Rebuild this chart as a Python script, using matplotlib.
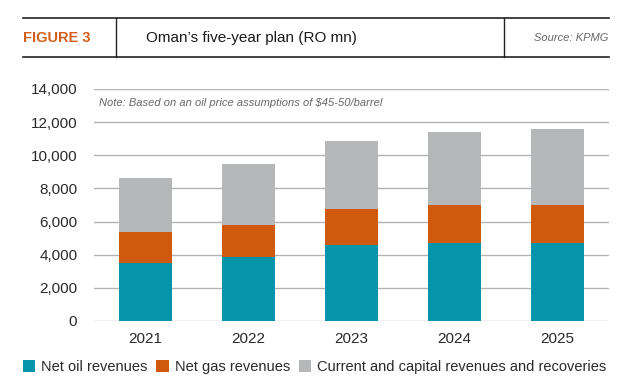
import matplotlib.pyplot as plt
from matplotlib.lines import Line2D
from matplotlib.patches import Patch
from matplotlib.ticker import FuncFormatter
import numpy as np

years = ['2021', '2022', '2023', '2024', '2025']
oil = [3500, 3880, 4600, 4720, 4720]
gas = [1900, 1920, 2180, 2310, 2310]
other = [3250, 3700, 4070, 4370, 4530]

labels = ['Net oil revenues', 'Net gas revenues',
          'Current and capital revenues and recoveries']
colors = ['#0694aa', '#cf5a0e', '#b6b7b9']

W, H = 626, 392
fig = plt.figure(figsize=(W / 100, H / 100), dpi=100)

def fx(x):
    return x / W

def fy(y):
    return 1 - y / H

plain = ['Liberation Sans', 'DejaVu Sans']

# header box
for y in (18, 57):
    fig.add_artist(Line2D([fx(23), fx(609)], [fy(y), fy(y)], color='#222222', lw=1.2))
for x in (116, 504):
    fig.add_artist(Line2D([fx(x), fx(x)], [fy(18), fy(57)], color='#222222', lw=1.0))
fig.text(fx(23), fy(38), 'FIGURE 3', family=plain, weight='bold', fontsize=10.5,
         color='#d2601a', va='center', ha='left')
fig.text(fx(146), fy(38), 'Oman’s five-year plan (RO mn)', family=plain, fontsize=11,
         color='#1a1a1a', va='center', ha='left')
fig.text(fx(608), fy(38), 'Source: KPMG', family=plain, style='italic', fontsize=8,
         color='#666666', va='center', ha='right')

ax = fig.add_axes([fx(94), fy(321), fx(609) - fx(94), (321 - 89) / H])
x = np.arange(len(years))
bottom = np.zeros(len(years))
for vals, c in zip([oil, gas, other], colors):
    ax.bar(x, vals, width=0.51, bottom=bottom, color=c, zorder=3)
    bottom += np.array(vals)

ax.set_xlim(-0.5, len(years) - 0.5)
ax.set_ylim(0, 14000)
ax.set_yticks(np.arange(0, 14001, 2000))
ax.yaxis.set_major_formatter(FuncFormatter(lambda v, p: f'{int(v):,}'))
ax.set_xticks(x)
ax.set_xticklabels(years)
ax.grid(axis='y', color='#b3b3b3', lw=1.0, zorder=0)
for s in ax.spines.values():
    s.set_visible(False)
ax.tick_params(length=0, labelsize=11, labelcolor='#2a2a2a')
ax.tick_params(axis='y', pad=12)
ax.tick_params(axis='x', pad=8)
for t in ax.get_xticklabels() + ax.get_yticklabels():
    t.set_family(plain)

ax.text((99 - 94) / 515, (321 - 103) / 232,
        'Note: Based on an oil price assumptions of $45-50/barrel',
        transform=ax.transAxes, family=plain,
        style='italic', fontsize=8, color='#666666', va='center', ha='left')

handles = [Patch(facecolor=c, edgecolor='none') for c in colors]
fig.legend(handles, labels, loc='center left', bbox_to_anchor=(fx(23), fy(367)),
           ncol=3, frameon=False, prop={'family': plain, 'size': 10.5},
           handlelength=0.85, handleheight=0.85, handletextpad=0.4,
           columnspacing=0.6, borderpad=0, borderaxespad=0, labelcolor='#2a2a2a')

fig.savefig('out.png', dpi=100)
